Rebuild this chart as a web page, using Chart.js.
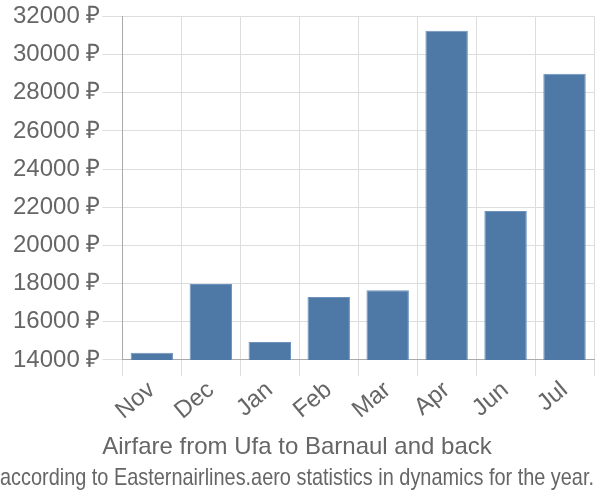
<!DOCTYPE html>
<html>
<head>
<meta charset="utf-8">
<script src="https://cdn.jsdelivr.net/npm/chart.js@4/dist/chart.umd.min.js"></script>
<style>
    html, body { margin: 0; padding: 0; background: #fff; }
    #wrap { width: 600px; height: 500px; }
</style>
</head>
<body>
<div id="wrap"><canvas id="chart"></canvas></div>
<script>
const months = ['Nov', 'Dec', 'Jan', 'Feb', 'Mar', 'Apr', 'Jun', 'Jul'];
const prices = [14370, 17980, 14940, 17300, 17650, 31250, 21800, 29000];
const yMin = 14000;
const yMax = 32000;
const yStep = 2000;

document.addEventListener('DOMContentLoaded', function () {
    Chart.defaults.font.family = '"Liberation Sans", Arial, sans-serif';
    Chart.defaults.color = '#666';
    const ctx = document.getElementById('chart').getContext('2d');
    new Chart(ctx, {
        type: 'bar',
        data: {
            labels: months,
            datasets: [{
                data: prices,
                backgroundColor: '#4e79a7',
                borderColor: '#6d93bd',
                borderWidth: 1,
                categoryPercentage: 0.8,
                barPercentage: 0.9
            }]
        },
        options: {
            responsive: true,
            maintainAspectRatio: false,
            animation: false,
            layout: { padding: { top: 4, right: 6, bottom: 3, left: 0 } },
            plugins: {
                legend: { display: false },
                tooltip: { enabled: false },
                title: {
                    display: true,
                    position: 'bottom',
                    weight: 1000,
                    text: 'Airfare from Ufa to Barnaul and back',
                    font: { size: 24, weight: 'normal' },
                    color: '#666',
                    padding: { top: 8, bottom: 2 }
                },
                subtitle: {
                    display: true,
                    position: 'bottom',
                    weight: 1500,
                    text: 'according to Easternairlines.aero statistics in dynamics for the year.',
                    font: { size: 24 },
                    color: '#666',
                    padding: { top: 0, bottom: 4 }
                }
            },
            scales: {
                x: {
                    grid: { color: '#ddd', tickLength: 16 },
                    border: { color: '#aaa' },
                    ticks: {
                        font: { size: 24 },
                        maxRotation: 40,
                        minRotation: 40,
                        padding: 0
                    }
                },
                y: {
                    min: yMin,
                    max: yMax,
                    grid: { color: '#ddd', tickLength: 20 },
                    border: { color: '#aaa' },
                    afterFit: function (scale) { scale.width += 11; },
                    ticks: {
                        stepSize: yStep,
                        font: { size: 24 },
                        padding: 2,
                        callback: function (v) { return v + ' ₽'; }
                    }
                }
            }
        }
    });
});
</script>
</body>
</html>
